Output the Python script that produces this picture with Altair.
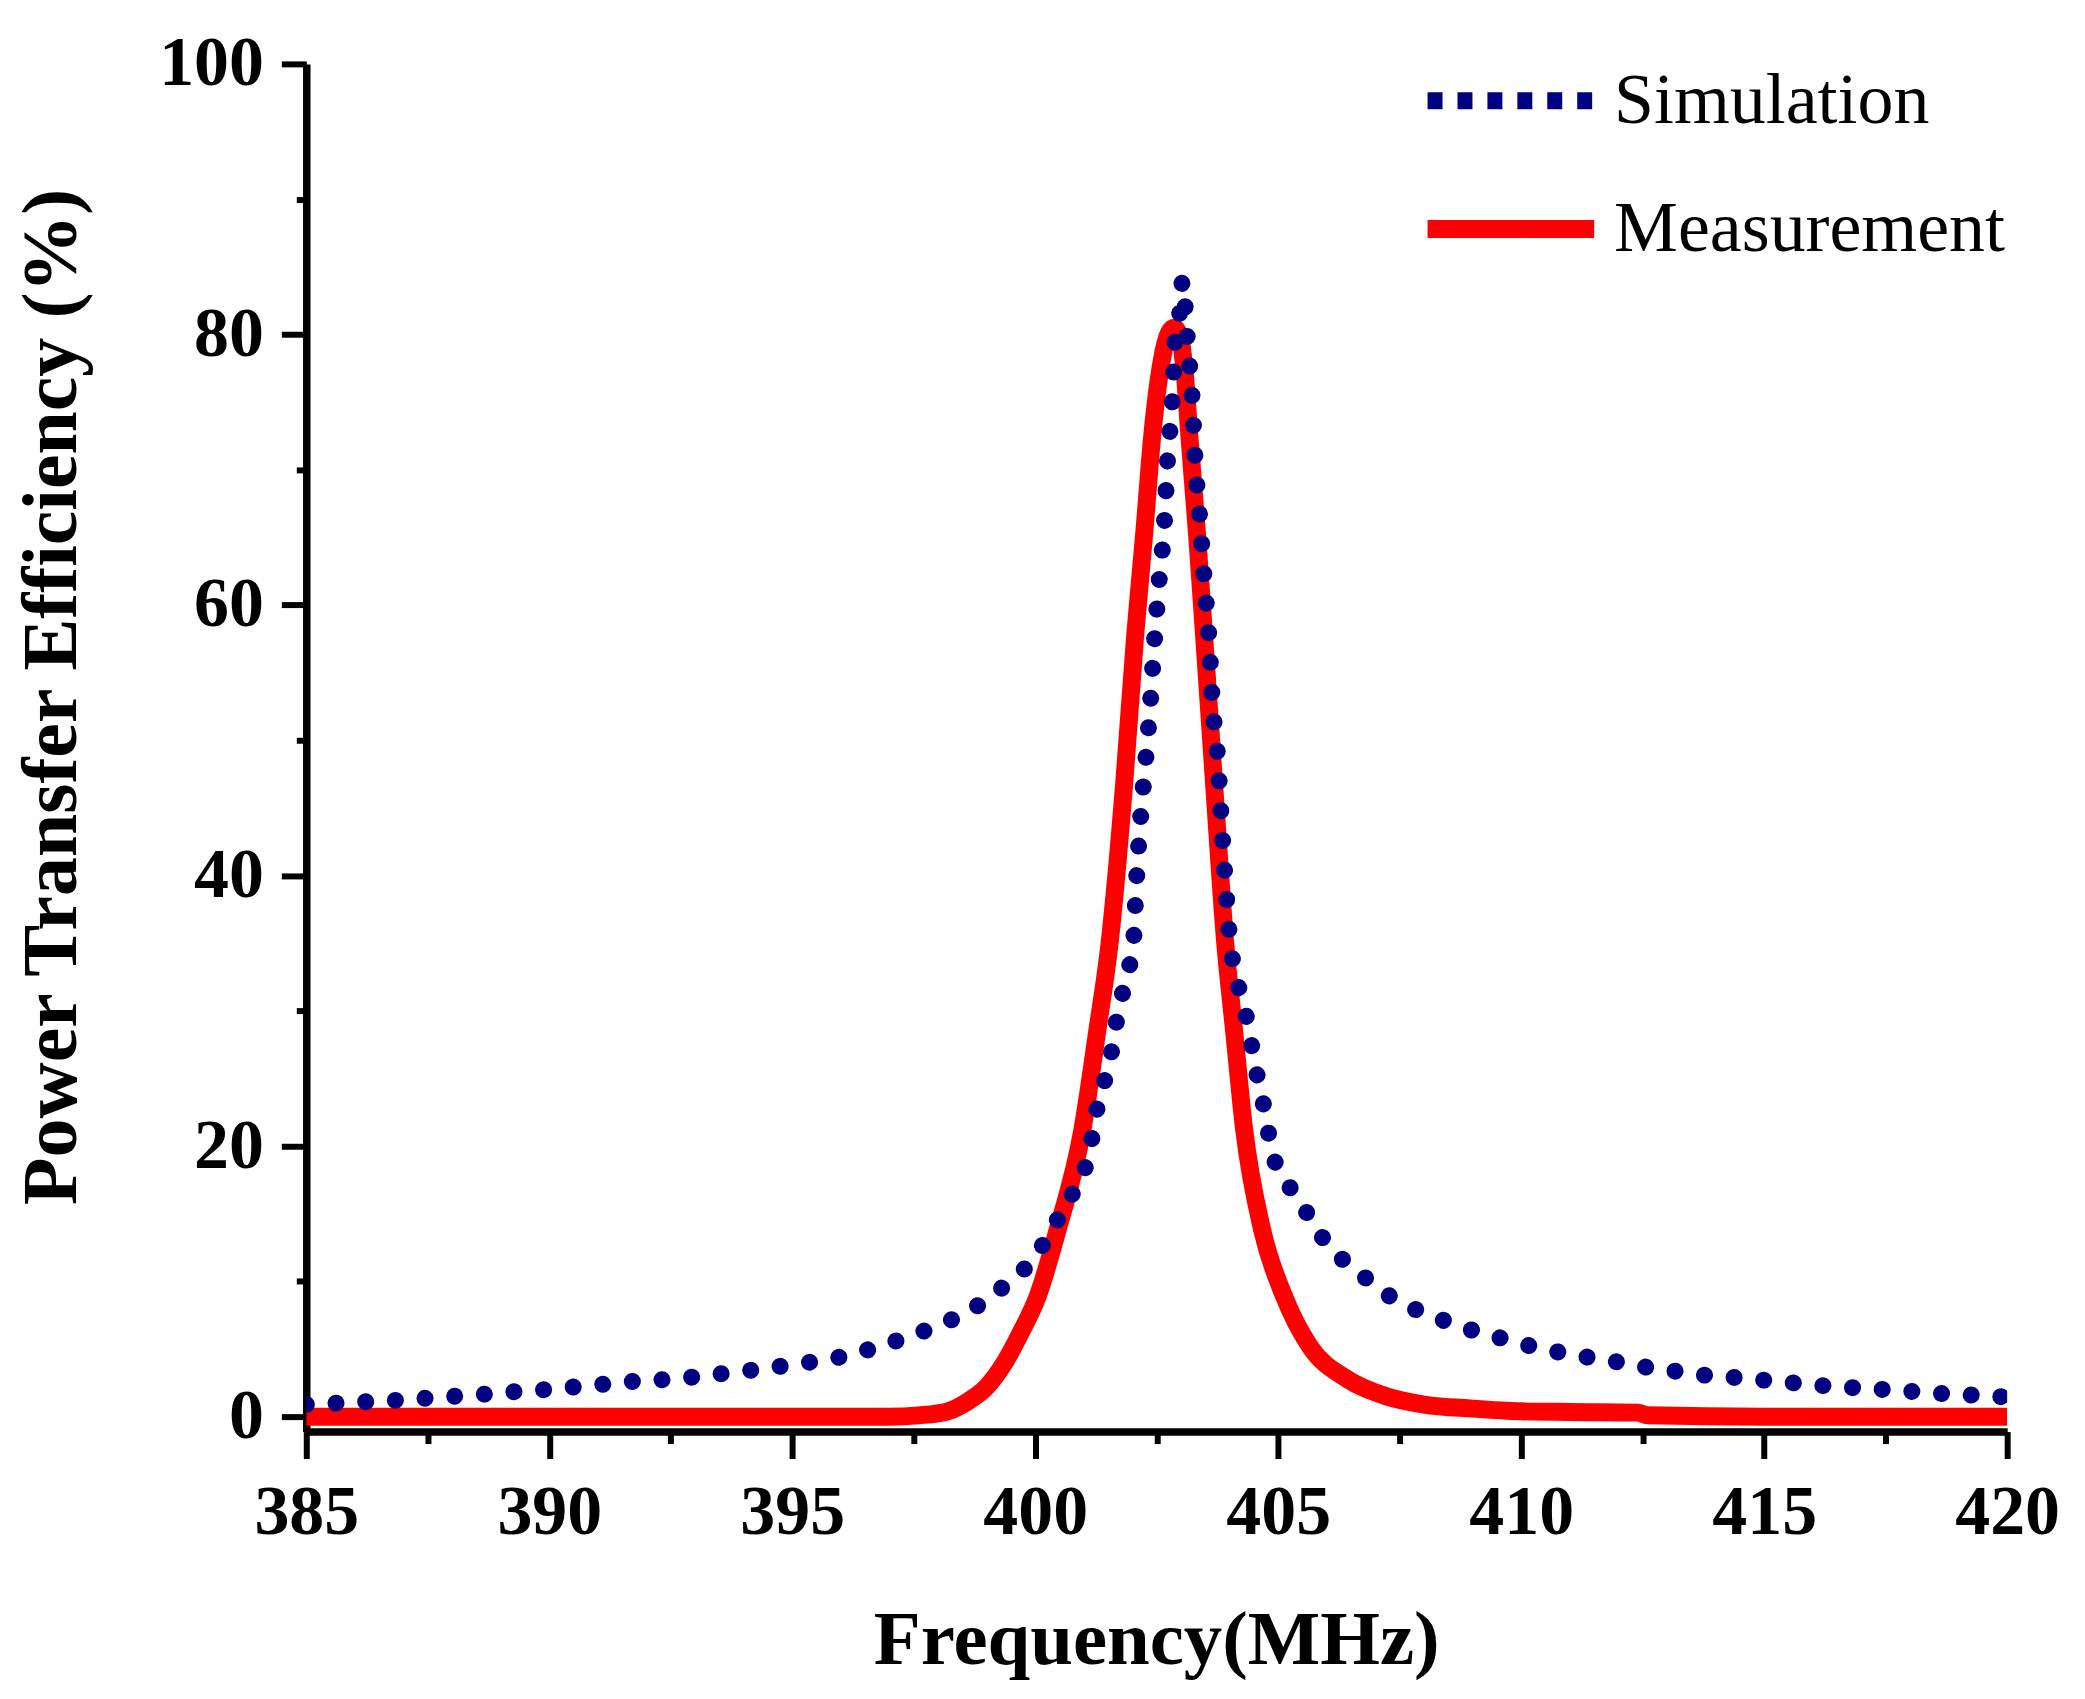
import altair as alt
import pandas as pd

# ---- data ----
sim_freq = [385.0, 385.6, 386.2, 386.8, 387.4, 388.0, 388.6, 389.3, 389.9, 390.5,
            391.1, 391.7, 392.4, 393.0, 393.6, 394.3, 394.9, 395.5, 396.1, 396.7,
            397.3, 397.9, 398.47, 399.02, 399.47, 399.95, 400.29, 400.60, 400.91, 401.12,
            401.22, 401.34, 401.53, 401.63, 401.75, 401.90, 402.02, 402.08, 402.16, 402.27,
            402.37, 402.45, 402.55, 402.66, 402.72, 402.82, 402.88, 402.98, 403.03, 403.09,
            403.13, 403.23, 403.29, 403.39, 403.48, 403.58, 403.64, 403.76, 403.83, 403.91,
            404.01, 404.11, 404.26, 404.40, 404.50, 404.63, 404.75, 404.85, 405.08, 405.43,
            405.74, 406.06, 406.56, 407.09, 407.6, 408.2, 408.8, 409.4, 410.0, 410.6,
            411.2, 411.9, 412.5, 413.1, 413.7, 414.4, 415.0, 415.6, 416.2, 416.8,
            417.5, 418.1, 418.7, 419.3, 420.0]
sim_eff = [0.9, 1.0, 1.1, 1.2, 1.35, 1.5, 1.65, 1.85, 2.0, 2.2,
           2.4, 2.6, 2.75, 2.95, 3.2, 3.5, 3.8, 4.1, 4.5, 5.1,
           5.8, 6.6, 7.5, 8.7, 10.0, 11.6, 13.5, 15.5, 17.5, 19.6,
           21.8, 23.9, 26.1, 28.4, 30.6, 32.8, 35.0, 39.4, 43.9, 48.4,
           52.8, 57.2, 61.8, 66.2, 70.6, 75.0, 79.6, 81.8, 84.0, 81.8,
           79.7, 75.2, 70.8, 66.3, 61.8, 57.3, 53.1, 48.5, 44.1, 39.7,
           35.1, 32.9, 30.8, 28.6, 26.4, 24.2, 22.1, 19.9, 17.9, 16.0,
           14.2, 12.5, 11.0, 9.4, 8.3, 7.4, 6.6, 6.0, 5.4, 4.9,
           4.5, 4.1, 3.7, 3.4, 3.1, 2.9, 2.7, 2.5, 2.3, 2.15,
           2.0, 1.85, 1.7, 1.6, 1.45]

meas_freq = [385.0, 390.0, 395.0, 397.0, 397.6, 398.2, 398.6, 399.0, 399.37, 399.7,
             400.05, 400.46, 400.97, 401.28, 401.53, 401.83, 402.06, 402.24, 402.41, 402.6,
             402.75, 402.86, 402.98, 403.08, 403.17, 403.33, 403.46, 403.68, 403.91, 404.09,
             404.30, 404.67, 405.12, 405.65, 406.41, 407.23, 408.0, 409.0, 410.0, 411.0,
             412.4, 412.6, 415.0, 420.0]
meas_eff = [0.0, 0.0, 0.0, 0.0, 0.1, 0.4, 1.1, 2.2, 4.0, 6.2,
            8.9, 13.8, 21.2, 28.6, 35.0, 46.8, 57.9, 65.2, 72.6, 78.0,
            80.1, 80.5, 79.8, 77.0, 72.6, 65.2, 58.5, 46.8, 35.0, 28.6,
            21.2, 13.8, 8.9, 5.2, 2.8, 1.5, 0.9, 0.6, 0.4, 0.35,
            0.3, 0.1, 0.0, 0.0]

series_names = ["Simulation", "Measurement"]
series_colors = ["#000080", "#ff0000"]
x_ticks = [385, 387.5, 390, 392.5, 395, 397.5, 400, 402.5, 405, 407.5, 410,
           412.5, 415, 417.5, 420]
y_ticks = [0, 10, 20, 30, 40, 50, 60, 70, 80, 90, 100]

df = pd.concat([
    pd.DataFrame({"freq": meas_freq, "eff": meas_eff, "series": "Measurement"}),
    pd.DataFrame({"freq": sim_freq, "eff": sim_eff, "series": "Simulation"}),
], ignore_index=True)

FONT = "Liberation Serif"
LEG_FONT = "Times New Roman, Liberation Serif, Noto Serif, DejaVu Serif, serif"

x_enc = alt.X("freq:Q",
              scale=alt.Scale(domain=[385, 420], nice=False, zero=False),
              axis=alt.Axis(
                  title="Frequency(MHz)", values=x_ticks,
                  labelExpr="datum.value % 5 === 0 ? datum.label : ''",
                  labelFont=FONT, labelFontSize=70, labelFontWeight="bold", labelColor="black",
                  labelPadding=20, labelFlush=False, labelOverlap=False,
                  tickSize={"condition": {"test": "datum.value % 5 === 0", "value": 27}, "value": 12},
                  tickWidth=6, tickColor="black",
                  domainColor="black", domainWidth=7.5,
                  titleFont=FONT, titleFontSize=77, titleFontWeight="bold", titleColor="black",
                  titleBaseline="alphabetic", titleX=852, titleY=232, titleAlign="center",
                  grid=False,
              ))
y_enc = alt.Y("eff:Q",
              scale=alt.Scale(domain=[-1.1, 100], nice=False, zero=False),
              axis=alt.Axis(
                  title="Power Transfer Efficiency (%)", values=y_ticks,
                  labelExpr="datum.value % 20 === 0 ? datum.label : ''",
                  labelFont=FONT, labelFontSize=70, labelFontWeight="bold", labelColor="black",
                  labelPadding=18, labelFlush=False, labelOverlap=False,
                  tickSize={"condition": {"test": "datum.value % 20 === 0", "value": 25}, "value": 10},
                  tickWidth=6, tickColor="black",
                  domainColor="black", domainWidth=7.5,
                  titleFont=FONT, titleFontSize=78, titleFontWeight="bold", titleColor="black",
                  titleBaseline="alphabetic", titleAngle=270, titleAlign="center",
                  titleX=-231, titleY=634,
                  grid=False,
              ))

base = alt.Chart(df)

meas = base.transform_filter(alt.datum.series == "Measurement").mark_line(
    color=series_colors[1], strokeWidth=18, strokeCap="butt", strokeJoin="round",
    interpolate="monotone", clip=True,
).encode(x=x_enc, y=y_enc)

sim = base.transform_filter(alt.datum.series == "Simulation").mark_line(
    color=series_colors[0], strokeWidth=17, strokeDash=[0.1, 29.69],
    strokeCap="round", interpolate="monotone", clip=True,
).encode(x=x_enc, y=y_enc)

leg = alt.Legend(
    orient="none", legendX=1115, legendY=-55, title=None,
    labelFont=LEG_FONT, labelFontSize=72, labelFontWeight="normal", labelColor="black",
    labelLimit=0, labelOffset=11, symbolType="stroke", symbolSize=167 * 167,
    padding=0, rowPadding=-55,
)

# legend-only layer (no rows drawn); symbols come from the series scales
legend_layer = base.transform_filter("false").mark_line().encode(
    x=x_enc, y=y_enc,
    color=alt.Color("series:N", scale=alt.Scale(domain=series_names, range=series_colors),
                    legend=leg),
    strokeDash=alt.StrokeDash("series:N",
                              scale=alt.Scale(domain=series_names, range=[[15, 15], [1, 0]]),
                              legend=leg),
    strokeWidth=alt.StrokeWidth("series:N",
                                scale=alt.Scale(domain=series_names, range=[17, 18]),
                                legend=leg),
)

chart = alt.layer(meas, sim, legend_layer).properties(
    width=1705, height=1371,
    autosize=alt.AutoSizeParams(type="none"),
    padding={"left": 299, "top": 54, "right": 70, "bottom": 250},
).configure(background="white", font=FONT).configure_view(stroke=None).configure_legend(
    labelFont=LEG_FONT, labelFontSize=72, labelColor="black"
)

chart.save("out.html", embed_options={"renderer": "svg", "actions": False})
